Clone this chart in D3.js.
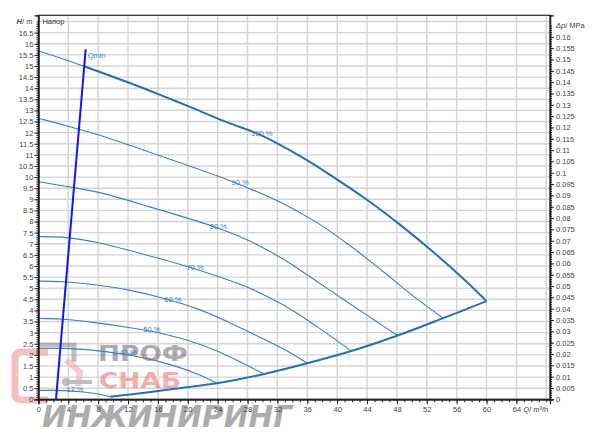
<!DOCTYPE html>
<html><head><meta charset="utf-8">
<script src="https://cdn.jsdelivr.net/npm/d3@7"></script>
<style>body{margin:0;background:#fff}svg{display:block;font-family:"Liberation Sans",Arial,sans-serif}</style>
</head><body><svg id="c" width="600" height="435"></svg>
<script>
// ---- data ----
const qTicks = d3.range(0, 65, 4);
const hTicks = d3.range(0, 16.51, 0.5);
const pTicks = d3.range(0, 0.1601, 0.005);
const speedNames = ["100 %", "90 %", "80 %", "70 %", "60 %", "50 %", "40 %", "17 %"];
const labelQ = [29.9, 27.0, 24.1, 21.0, 18.0, 15.2, 12.0, 4.9];
const curve100Low = [[0, 15.67], [3, 15.35], [6.1, 14.99]];
const curve100 = [[6.1, 14.99], [11.8, 14.29], [16.3, 13.7], [20.7, 13.1], [25.2, 12.47], [29.7, 11.9], [35, 10.95], [39.5, 10.0], [43.9, 9.0], [48.4, 7.86], [52.9, 6.62], [57.3, 5.3], [60, 4.42]];
const curve90 = [[0, 12.65], [4.7, 12.22], [8.2, 11.88], [14.9, 11.12], [23.9, 10.06], [28.3, 9.48], [32.8, 8.8], [37.3, 7.95], [41.7, 6.92], [46.2, 5.74], [50.2, 4.64], [54.2, 3.65]];
const curve80 = [[0, 9.79], [1.6, 9.7], [4.7, 9.53], [8.2, 9.3], [14.9, 8.66], [23.9, 7.72], [28.3, 7.12], [32.8, 6.3], [37.3, 5.3], [41.7, 4.3], [45, 3.56], [48.1, 2.87]];
const curve70 = [[0, 7.32], [3, 7.3], [4.7, 7.24], [8.2, 7.03], [14.9, 6.45], [21, 5.86], [28.3, 5.0], [32.8, 4.24], [37.3, 3.27], [41.9, 2.17]];
const curve60 = [[0, 5.32], [3.3, 5.29], [7.8, 5.14], [12.3, 4.9], [16.7, 4.55], [21.2, 4.08], [25.6, 3.45], [30.1, 2.72], [33.5, 2.14], [36, 1.62]];
const curve50 = [[0, 3.64], [3.3, 3.6], [7.8, 3.44], [12.3, 3.22], [16.7, 2.95], [21.2, 2.52], [25.6, 1.92], [30.1, 1.15]];
const curve40 = [[0, 2.3], [4, 2.28], [7.8, 2.19], [12.3, 1.98], [16.7, 1.65], [21.2, 1.15], [23.9, 0.72]];
const curve17 = [[0, 0.4], [2, 0.4], [4, 0.38], [6, 0.33], [8, 0.24], [9.6, 0.12]];
const curveMin = [[9.6, 0.12], [12.3, 0.22], [16, 0.37], [18.9, 0.5], [23.9, 0.72], [30.1, 1.13], [36, 1.62], [41.9, 2.17], [48.1, 2.87], [54.2, 3.65], [60, 4.42]];
const qminLine = [[2.36, 0], [6.33, 15.75]];

// ---- layout ----
const svg = d3.select("#c");
const L = 38.4, R = 550, T = 15.3, B = 399.3;
const x = d3.scaleLinear().domain([0, 68.5]).range([L, R]);
const y = d3.scaleLinear().domain([0, 17.28]).range([B, T]);
const yP = d3.scaleLinear().domain([0, 17.28 * 0.00981]).range([B, T]);
const blue = "#3f7fbd", dblue = "#2d6eac";

// grid
const g = svg.append("g");
g.selectAll("line.h").data(hTicks.concat([17])).join("line")
  .attr("x1", L).attr("x2", R).attr("y1", d => y(d)).attr("y2", d => y(d))
  .attr("stroke", "#d4d4d4").attr("stroke-width", 1.4);
g.selectAll("line.v").data(qTicks.concat([68]).filter(d => d > 0)).join("line")
  .attr("y1", T).attr("y2", B).attr("x1", d => x(d)).attr("x2", d => x(d))
  .attr("stroke", "#d4d4d4").attr("stroke-width", 1.4);

// watermark
const wm = svg.append("g").attr("opacity", 0.55);
wm.append("path").attr("d", "M 48 352 L 22 352 Q 15 352 15 359 L 15 393 Q 15 400 22 400 L 48 400")
  .attr("fill", "none").attr("stroke", "#f08c8c").attr("stroke-width", 7);
wm.append("path").attr("d", "M 66 360 L 80 372 L 78 386")
  .attr("fill", "none").attr("stroke", "#f3a0a0").attr("stroke-width", 6);
wm.append("path").attr("d", "M 40 345 L 74 345 L 74 362")
  .attr("fill", "none").attr("stroke", "#8a8a8a").attr("stroke-width", 5);
wm.append("line").attr("x1", 66).attr("x2", 92).attr("y1", 382).attr("y2", 382).attr("stroke", "#8a8a8a").attr("stroke-width", 4);
wm.append("circle").attr("cx", 66).attr("cy", 382).attr("r", 4).attr("fill", "#8a8a8a");
wm.append("text").attr("x", 98).attr("y", 361).text("ПРОФ")
  .attr("font-family", "DejaVu Sans").attr("font-weight", "bold").attr("font-size", 22).attr("fill", "#6a6a6a")
  .attr("textLength", 90).attr("lengthAdjust", "spacingAndGlyphs");
wm.append("text").attr("x", 99).attr("y", 388).text("СНАБ")
  .attr("font-family", "DejaVu Sans").attr("font-weight", "bold").attr("font-size", 22).attr("fill", "#ee6c6c")
  .attr("textLength", 82).attr("lengthAdjust", "spacingAndGlyphs");
wm.append("text").attr("x", 42).attr("y", 427).text("ИНЖИНИРИНГ")
  .attr("font-family", "DejaVu Sans").attr("font-weight", "bold").attr("font-size", 30).attr("font-style", "italic").attr("fill", "#6a6a6a")
  .attr("textLength", 250).attr("lengthAdjust", "spacingAndGlyphs");

// curves
const line = d3.line().x(d => x(d[0])).y(d => y(d[1])).curve(d3.curveCatmullRom.alpha(0.5));
const thin = [curve90, curve80, curve70, curve60, curve50, curve40, curve17, curve100Low];
svg.append("g").selectAll("path").data(thin).join("path")
  .attr("d", line).attr("fill", "none").attr("stroke", blue).attr("stroke-width", 1.1);
svg.append("g").selectAll("path").data([curve100, curveMin]).join("path")
  .attr("d", line).attr("fill", "none").attr("stroke", dblue).attr("stroke-width", 2);

// labels on curves
const allCurves = [curve100, curve90, curve80, curve70, curve60, curve50, curve40, curve17];
function interp(c, q) {
  for (let i = 1; i < c.length; i++) if (q <= c[i][0]) {
    const t = (q - c[i - 1][0]) / (c[i][0] - c[i - 1][0]);
    return c[i - 1][1] + t * (c[i][1] - c[i - 1][1]);
  }
  return c[c.length - 1][1];
}
svg.append("g").selectAll("text").data(speedNames).join("text")
  .attr("x", (d, i) => x(labelQ[i])).attr("y", (d, i) => y(interp(allCurves[i], labelQ[i])) + 0.5)
  .attr("text-anchor", "middle").attr("font-size", 7.5).attr("fill", blue).text(d => d);

// Qmin
svg.append("path").datum(qminLine).attr("d", d3.line().x(d => x(d[0])).y(d => y(d[1])))
  .attr("stroke", "#1414ff").attr("stroke-width", 2).attr("fill", "none");
svg.append("text").attr("x", x(qminLine[1][0]) + 2).attr("y", y(qminLine[1][1]) + 9)
  .attr("font-size", 7.5).attr("fill", blue).text("Qmin");

// frame
svg.append("rect").attr("x", L).attr("y", T).attr("width", R - L).attr("height", B - T)
  .attr("fill", "none").attr("stroke", "#333").attr("stroke-width", 1.3);

const txt = "#444";
// left axis
const ly = svg.append("g").attr("transform", `translate(${L},0)`)
  .call(d3.axisLeft(y).tickValues(hTicks).tickSize(4).tickFormat(d3.format("~g")));
svg.append("g").attr("transform", `translate(${L},0)`)
  .call(d3.axisLeft(y).tickValues(d3.range(0, 17.01, 0.1)).tickSize(2).tickFormat(""));
// right axis
const ry = svg.append("g").attr("transform", `translate(${R},0)`)
  .call(d3.axisRight(yP).tickValues(pTicks).tickSize(4).tickFormat(d3.format("~g")));
svg.append("g").attr("transform", `translate(${R},0)`)
  .call(d3.axisRight(yP).tickValues(d3.range(0, 0.1651, 0.001)).tickSize(2).tickFormat(""));
// bottom axis
const bx = svg.append("g").attr("transform", `translate(0,${B})`)
  .call(d3.axisBottom(x).tickValues(qTicks).tickSize(5).tickFormat(d3.format("d")));
svg.append("g").attr("transform", `translate(0,${B})`)
  .call(d3.axisBottom(x).tickValues(d3.range(0, 68.5, 1)).tickSize(3).tickFormat(""));

svg.selectAll(".domain").attr("stroke", "#222").attr("stroke-width", 1.3);
svg.selectAll(".tick line").attr("stroke", "#222");
svg.selectAll(".tick text").attr("font-family", "Liberation Sans, Arial, sans-serif").attr("font-size", 7.5).attr("fill", txt);
ly.selectAll(".tick text").attr("x", -5);
ry.selectAll(".tick text").attr("x", 6);
bx.selectAll(".tick text").attr("y", 7);

// axis titles
const ht = svg.append("text").attr("x", L - 6).attr("y", y(17)).attr("dy", "0.32em").attr("text-anchor", "end")
  .attr("font-size", 7.5).attr("fill", txt);
ht.append("tspan").attr("font-style", "italic").attr("font-weight", "bold").text("H");
ht.append("tspan").text("/ m");
const pt = svg.append("text").attr("x", R + 6).attr("y", yP(0.165)).attr("dy", "0.32em")
  .attr("font-size", 7.5).attr("fill", txt);
pt.append("tspan").attr("font-style", "italic").text("Δp");
pt.append("tspan").text("/ MPa");
const qt = svg.append("text").attr("x", x(68) + 2).attr("y", B + 7).attr("dy", "0.71em").attr("text-anchor", "end")
  .attr("font-size", 7.5).attr("fill", txt);
qt.append("tspan").attr("font-style", "italic").text("Q");
qt.append("tspan").text("/ m³/h");
svg.append("text").attr("x", L + 4).attr("y", T + 9).attr("font-size", 7.5).attr("fill", "#333").text("Напор");
</script></body></html>
